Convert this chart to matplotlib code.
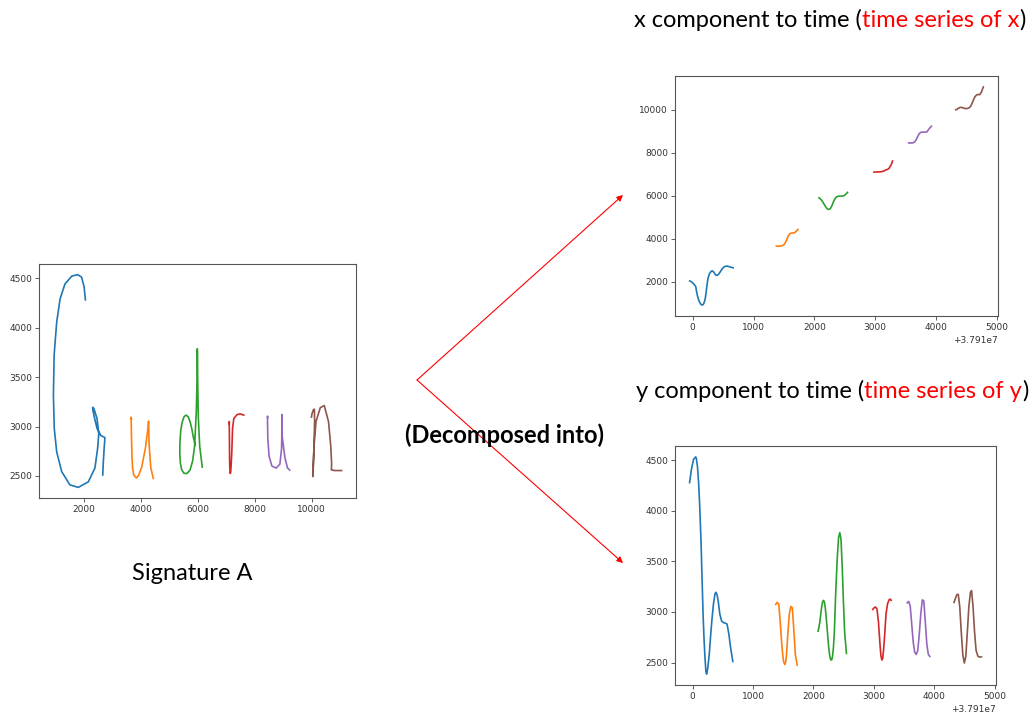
import matplotlib
matplotlib.use("Agg")
import matplotlib.pyplot as plt
from matplotlib.patches import FancyArrowPatch
from matplotlib.transforms import IdentityTransform

# ---------------- data (time in ms relative to T0) ----------------
T0 = 37910000

blue_t = [-50, -20, 15, 50, 62, 80, 98, 117, 138, 157, 173, 188, 205, 220, 232, 250, 275, 300, 320,
          345, 370, 385, 405, 425, 450, 480, 510, 540, 570, 600, 630, 665]
blue_x = [2040, 1995, 1905, 1770, 1560, 1320, 1150, 1030, 940, 915, 945, 1030, 1205, 1495, 1790, 2140, 2375, 2470, 2510,
          2450, 2340, 2300, 2300, 2350, 2450, 2580, 2680, 2720, 2725, 2700, 2670, 2650]
blue_y = [4280, 4410, 4510, 4535, 4520, 4440, 4290, 4055, 3720, 3316, 2980, 2745, 2545, 2410, 2385, 2440, 2580, 2780, 2925,
          3080, 3180, 3195, 3170, 3100, 2980, 2910, 2895, 2890, 2880, 2780, 2640, 2510]

orange_t = [1375, 1400, 1425, 1450, 1475, 1490, 1505, 1525, 1540, 1555, 1575, 1600, 1625, 1650, 1675, 1700, 1730]
orange_x = [3660, 3650, 3650, 3660, 3680, 3700, 3740, 3830, 3910, 4020, 4150, 4240, 4260, 4265, 4280, 4340, 4430]
orange_y = [3075, 3095, 3080, 2900, 2680, 2580, 2510, 2480, 2505, 2590, 2780, 2980, 3055, 3040, 2820, 2580, 2475]

green_t = [2076, 2090, 2105, 2120, 2135, 2150, 2165, 2180, 2195, 2210, 2225, 2240, 2255, 2270, 2285, 2300,
           2315, 2330, 2345, 2365, 2390, 2415, 2435, 2455, 2475, 2495, 2515, 2545]
green_x = [5900, 5870, 5830, 5780, 5720, 5650, 5580, 5510, 5440, 5390, 5365, 5360, 5380, 5430, 5510, 5610,
           5720, 5810, 5880, 5940, 5970, 5975, 5975, 5980, 5990, 6010, 6060, 6150]
green_y = [2810, 2850, 2900, 2980, 3050, 3100, 3115, 3100, 3040, 2950, 2840, 2730, 2630, 2560, 2527, 2525,
           2560, 2650, 2800, 3150, 3500, 3740, 3785, 3720, 3450, 3100, 2800, 2590]

red_t = [2980, 3000, 3025, 3050, 3075, 3100, 3115, 3130, 3145, 3160, 3175, 3200, 3225, 3250, 3270, 3285]
red_x = [7090, 7095, 7100, 7100, 7105, 7110, 7120, 7135, 7150, 7170, 7190, 7215, 7260, 7370, 7480, 7610]
red_y = [3025, 3040, 3050, 3030, 2900, 2680, 2570, 2525, 2540, 2630, 2750, 2980, 3080, 3120, 3128, 3115]

purple_t = [3550, 3575, 3600, 3625, 3650, 3675, 3700, 3725, 3750, 3775, 3800, 3825, 3850, 3875, 3900, 3925]
purple_x = [8450, 8445, 8445, 8455, 8500, 8600, 8750, 8880, 8940, 8950, 8950, 8950, 8960, 9060, 9150, 9225]
purple_y = [3090, 3105, 3060, 2880, 2700, 2600, 2580, 2620, 2780, 2980, 3120, 3110, 2900, 2680, 2580, 2560]

brown_t = [4325, 4345, 4370, 4395, 4420, 4445, 4470, 4495, 4520, 4545, 4570, 4595, 4615, 4640, 4665, 4690, 4720, 4745, 4778]
brown_x = [9990, 10010, 10060, 10095, 10100, 10080, 10050, 10045, 10050, 10080, 10150, 10300, 10440, 10590, 10670, 10700, 10690, 10800, 11050]
brown_y = [3095, 3130, 3170, 3175, 3050, 2800, 2580, 2495, 2560, 2800, 3050, 3190, 3212, 3050, 2800, 2620, 2562, 2555, 2555]

strokes = [
    (blue_t, blue_x, blue_y, "C0"),
    (orange_t, orange_x, orange_y, "C1"),
    (green_t, green_x, green_y, "C2"),
    (red_t, red_x, red_y, "C3"),
    (purple_t, purple_x, purple_y, "C4"),
    (brown_t, brown_x, brown_y, "C5"),
]

# ---------------- figure ----------------
W, H = 1032, 713
fig = plt.figure(figsize=(W / 100, H / 100), dpi=100)


def px_axes(x0, y0, x1, y1):
    return fig.add_axes([x0 / W, 1 - y1 / H, (x1 - x0) / W, (y1 - y0) / H])


ax_sig = px_axes(39, 264, 356, 498)
ax_xt = px_axes(675, 76, 998, 316)
ax_yt = px_axes(675, 446, 996, 685)

for t, x, y, c in strokes:
    tt = [T0 + v for v in t]
    ax_sig.plot(x, y, color=c, lw=1.2, solid_joinstyle="round")
    ax_xt.plot(tt, x, color=c, lw=1.2, solid_joinstyle="round")
    ax_yt.plot(tt, y, color=c, lw=1.2, solid_joinstyle="round")

for ax in (ax_sig, ax_xt, ax_yt):
    ax.tick_params(labelsize=6.5, length=3, width=0.6, color="#444444", labelcolor="#333333", pad=2)
    for s in ax.spines.values():
        s.set_color("#555555")
        s.set_linewidth(0.8)

for ax in (ax_xt, ax_yt):
    ax.set_xticks([T0 + v for v in [0, 1000, 2000, 3000, 4000, 5000]])
    ax.xaxis.get_offset_text().set_fontsize(6.5)
    ax.xaxis.get_offset_text().set_color("#333333")

ax_sig.set_xticks([2000, 4000, 6000, 8000, 10000])
ax_sig.set_yticks([2500, 3000, 3500, 4000, 4500])
ax_xt.set_yticks([2000, 4000, 6000, 8000, 10000])
ax_yt.set_yticks([2500, 3000, 3500, 4000, 4500])

# ---------------- texts ----------------
FONT = "Lato"
renderer = fig.canvas.get_renderer()


def rich_text(x, y, parts, size=17, weight="normal"):
    for s, c in parts:
        txt = fig.text(x, H - y, s, color=c, fontsize=size, family=FONT, weight=weight,
                       va="baseline", ha="left", transform=IdentityTransform())
        bb = txt.get_window_extent(renderer)
        x += bb.width


rich_text(634, 27, [("x component to time (", "black"), ("time series of x", "red"), (")", "black")])
rich_text(636, 398, [("y component to time (", "black"), ("time series of y", "red"), (")", "black")])
rich_text(405, 443, [("(Decomposed into)", "black")], weight="bold")
rich_text(132, 580, [("Signature A", "black")])

# ---------------- arrows ----------------
origin = (417, H - 380)
for tip in [(623, H - 195), (623, H - 563)]:
    arr = FancyArrowPatch(origin, tip, transform=IdentityTransform(), arrowstyle="-|>",
                          mutation_scale=9, color="red", lw=0.8, shrinkA=0, shrinkB=0)
    fig.add_artist(arr)

fig.savefig("out.png", dpi=100)
